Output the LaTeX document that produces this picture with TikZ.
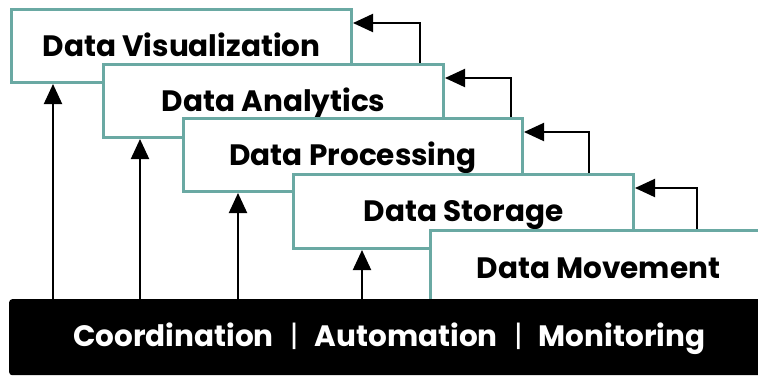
\documentclass[tikz,border=0pt]{standalone}
\usepackage{fontspec}
\setmainfont{Poppins}
\usetikzlibrary{arrows.meta}
\definecolor{tealb}{HTML}{6AA9A3}
\newcommand{\barsep}{\hspace{0.55em}{\fontseries{m}\selectfont|}\hspace{0.55em}}
\tikzset{
  stage/.style={draw=tealb, line width=3pt, fill=white, rectangle, anchor=north west,
    minimum width=340pt, minimum height=73pt, inner sep=0pt,
    font=\bfseries\fontsize{29.5}{32}\selectfont, text height=21pt, text depth=1pt},
  arr/.style={draw=black, line width=2pt, -{Triangle[length=20pt,width=18pt]}},
}
\begin{document}
\begin{tikzpicture}[x=1pt,y=-1pt]
\useasboundingbox (0,0) rectangle (758,376);
\clip (0,0) rectangle (758,376);
\node[stage] (viz) at (10,8) {Data Visualization};
\node[stage] (ana) at (102,63) {Data Analytics};
\node[stage, minimum width=339pt] (proc) at (182,117) {Data Processing};
\node[stage, minimum height=74pt] (stor) at (292,173) {Data Storage};
\node[stage, minimum height=76pt, minimum width=336pt] (move) at (429,229) {Data Movement};
\node[fill=black, rounded corners=3pt, anchor=north west, minimum width=760pt, minimum height=76pt,
  inner sep=0pt, text=white, font=\bfseries\fontsize{29.5}{32}\selectfont,
  text height=21pt, text depth=3pt] (bar) at (9,299)
  {Coordination\barsep Automation\barsep Monitoring};
% vertical arrows from the bar
\draw[arr] ([xshift=43pt]viz.south west |- bar.north) -- ([xshift=43pt]viz.south west);
\draw[arr] ([xshift=38pt]ana.south west |- bar.north) -- ([xshift=38pt]ana.south west);
\draw[arr] ([xshift=56pt]proc.south west |- bar.north) -- ([xshift=56pt]proc.south west);
\draw[arr] ([xshift=70pt]stor.south west |- bar.north) -- ([xshift=70pt]stor.south west);
% feedback arrows on the right
\draw[arr] ([xshift=-25pt]ana.north east) |- ([yshift=-15pt]viz.north east);
\draw[arr] ([xshift=-13pt]proc.north east) |- ([yshift=-15pt]ana.north east);
\draw[arr] ([xshift=-46pt]stor.north east) |- ([yshift=-15pt]proc.north east);
\draw[arr] ([xshift=268pt]move.north west) |- ([yshift=-15pt]stor.north east);
\end{tikzpicture}
\end{document}
